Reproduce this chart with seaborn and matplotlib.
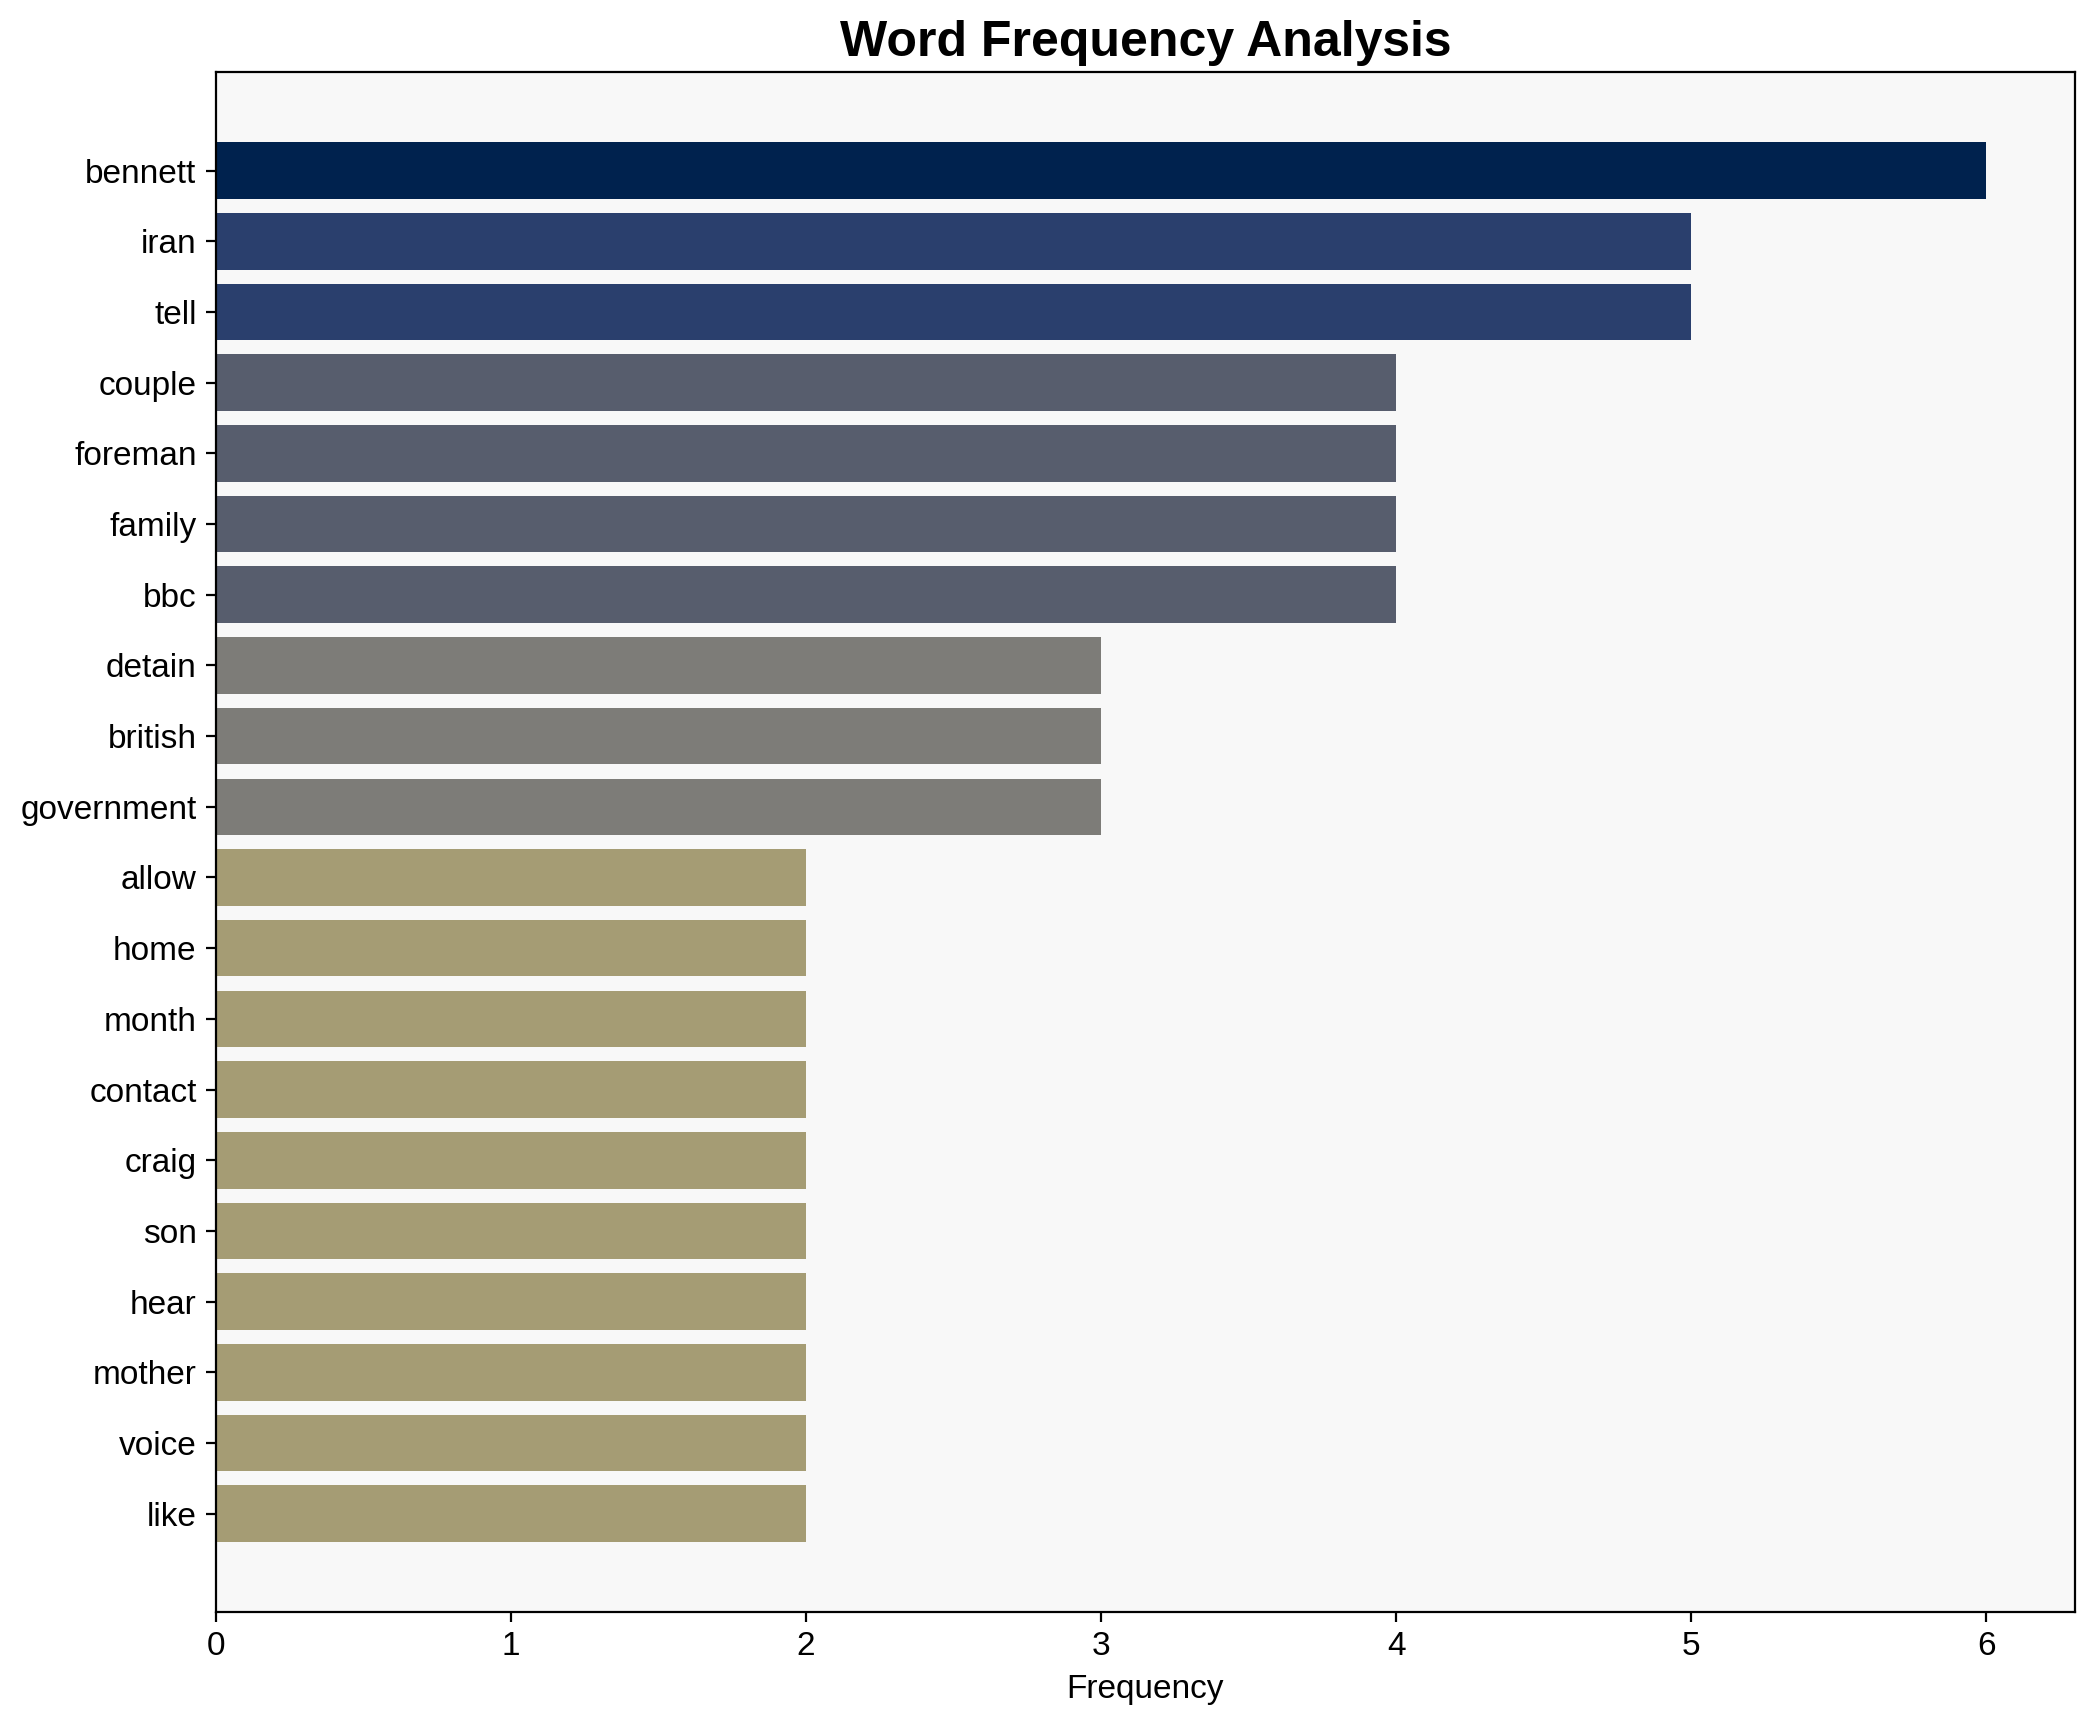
import numpy as np
import pandas as pd
import matplotlib
matplotlib.use("Agg")
import matplotlib.pyplot as plt
import seaborn as sns

words = ["bennett", "iran", "tell", "couple", "foreman", "family", "bbc",
         "detain", "british", "government", "allow", "home", "month",
         "contact", "craig", "son", "hear", "mother", "voice", "like"]
freqs = [6, 5, 5, 4, 4, 4, 4, 3, 3, 3, 2, 2, 2, 2, 2, 2, 2, 2, 2, 2]

sns.set_style("white")
plt.rcParams["font.family"] = ["Liberation Sans", "DejaVu Sans"]
plt.rcParams["text.color"] = "black"
plt.rcParams["axes.labelcolor"] = "black"
plt.rcParams["xtick.color"] = "black"
plt.rcParams["ytick.color"] = "black"

df = pd.DataFrame({"word": words, "freq": freqs})
top = max(freqs)
colors = [plt.cm.cividis(1 - f / top) for f in freqs]

DPI = 200
fig, ax = plt.subplots(figsize=(2095 / DPI, 1722 / DPI), dpi=DPI)
ax.set_facecolor("#f8f8f8")
sns.barplot(data=df, x="freq", y="word", hue="word", palette=colors,
            legend=False, width=0.8, saturation=1, linewidth=0, ax=ax)

# matplotlib-style margins around the bars
n = len(words)
span = (n - 1) + 0.8
ax.set_ylim(n - 1 + 0.4 + 0.05 * span, -0.4 - 0.05 * span)
ax.set_xlim(0, top * 1.05)

for s in ax.spines.values():
    s.set_visible(True)
    s.set_color("black")
    s.set_linewidth(0.8)

ax.tick_params(axis="both", which="major", labelsize=12, length=3.5,
               width=0.8, left=True, bottom=True, color="black")
ax.set_title("Word Frequency Analysis", fontsize=18, fontweight="bold")
ax.set_xlabel("Frequency", fontsize=12)
ax.set_ylabel("")

fig.subplots_adjust(left=0.1031, right=0.9904, top=0.958, bottom=0.0639)
plt.savefig("out.png", dpi=DPI)
